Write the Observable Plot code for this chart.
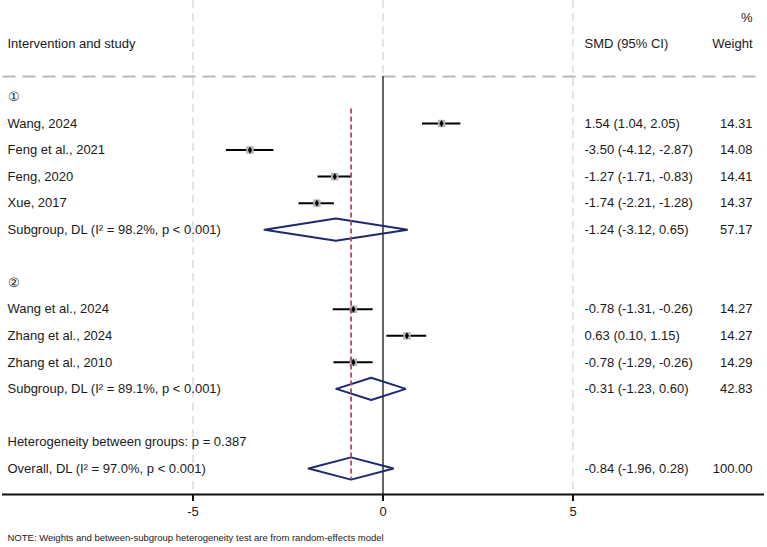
<!DOCTYPE html>
<html><head><meta charset="utf-8">
<script src="https://cdn.jsdelivr.net/npm/d3@7"></script>
<script src="https://cdn.jsdelivr.net/npm/@observablehq/plot@0.6"></script>
<style>body{margin:0;background:#fff} svg{display:block}</style>
</head><body><div id="chart"></div>
<script>
// ---- data ----
const rowLabels = ["①","Wang, 2024","Feng et al., 2021","Feng, 2020","Xue, 2017",
  "Subgroup, DL (I² = 98.2%, p < 0.001)","","②","Wang et al., 2024","Zhang et al., 2024",
  "Zhang et al., 2010","Subgroup, DL (I² = 89.1%, p < 0.001)","",
  "Heterogeneity between groups: p = 0.387","Overall, DL (I² = 97.0%, p < 0.001)"];
const rowKinds = ["group","study","study","study","study","pooled","blank","group","study","study",
  "study","pooled","blank","text","overall"];
const smd   = [null, 1.54, -3.50, -1.27, -1.74, -1.24, null, null, -0.78, 0.63, -0.78, -0.31, null, null, -0.84];
const ciLow = [null, 1.04, -4.12, -1.71, -2.21, -3.12, null, null, -1.31, 0.10, -1.29, -1.23, null, null, -1.96];
const ciHigh= [null, 2.05, -2.87, -0.83, -1.28, 0.65, null, null, -0.26, 1.15, -0.26, 0.60, null, null, 0.28];
const weights = ["","14.31","14.08","14.41","14.37","57.17","","","14.27","14.27","14.29","42.83","","","100.00"];
const xTicks = [-5, 0, 5];
const headerLeft = "Intervention and study";
const headerCI = "SMD (95% CI)";
const headerW1 = "%";
const headerW2 = "Weight";
const noteText = "NOTE: Weights and between-subgroup heterogeneity test are from random-effects model";

// ---- table ----
const fmt = v => (v < 0 ? "-" : "") + Math.abs(v).toFixed(2);
const rows = rowLabels.map((label, i) => ({
  r: i, label, kind: rowKinds[i], est: smd[i], lo: ciLow[i], hi: ciHigh[i],
  ci: smd[i] == null ? "" : `${fmt(smd[i])} (${fmt(ciLow[i])}, ${fmt(ciHigh[i])})`,
  w: weights[i]
}));
const studies = rows.filter(d => d.kind === "study");
const pooled = rows.filter(d => d.kind === "pooled" || d.kind === "overall");
const overall = rows.find(d => d.kind === "overall");
const H = 0.42;
const diamondPts = pooled.flatMap(d => [
  {id: d.r, x: d.lo, y: d.r}, {id: d.r, x: d.est, y: d.r - H},
  {id: d.r, x: d.hi, y: d.r}, {id: d.r, x: d.est, y: d.r + H},
  {id: d.r, x: d.lo, y: d.r}
]);
const headers = [
  {r: -2, left: headerLeft, ci: headerCI, w: headerW2},
  {r: -3, left: "", ci: "", w: headerW1}
];
const yTop = -3.636, yBot = 14.98, sepY = -0.77;
const txt = "#1a1a1a";

const plot = Plot.plot({
  width: 767, height: 547,
  marginLeft: 2.5, marginRight: 4.5, marginTop: 0, marginBottom: 53,
  style: {fontFamily: "'Liberation Sans', Arial, sans-serif", fontSize: "13px", color: txt, background: "#fff"},
  x: {domain: [-10, 10]},
  y: {domain: [yTop, yBot], reverse: true, axis: null},
  marks: [
    Plot.ruleX([-5, 5], {stroke: "#dcdcdc", strokeWidth: 1.5, strokeDasharray: "8,5"}),
    Plot.ruleX([0], {y1: yTop, y2: sepY, stroke: "#dcdcdc", strokeWidth: 1.5, strokeDasharray: "8,5"}),
    Plot.ruleY([sepY], {stroke: "#b8b8b8", strokeWidth: 2, strokeDasharray: "13,7"}),
    Plot.ruleX([0], {y1: sepY, y2: yBot, stroke: "#333", strokeWidth: 1.5}),
    Plot.frame({anchor: "bottom", stroke: "#111", strokeWidth: 2}),
    Plot.axisX({ticks: xTicks, tickFormat: d => String(d), tickSize: 7, tickPadding: 5, strokeWidth: 2, stroke: "#111", label: null, fontSize: 13}),
    Plot.ruleY(studies, {y: "r", x1: "lo", x2: "hi", stroke: "#000", strokeWidth: 2}),
    Plot.dot(studies, {x: "est", y: "r", symbol: "square", r: 4.2, fill: "#b5b5b5", stroke: null}),
    Plot.dot(studies, {x: "est", y: "r", symbol: "diamond", r: 2.2, fill: "#000"}),
    Plot.line(diamondPts, {x: "x", y: "y", z: "id", stroke: "#1f2a6e", strokeWidth: 2, strokeLinejoin: "miter", curve: "linear"}),
    Plot.ruleX([overall.est], {y1: 0.45, y2: 14.4, stroke: "#b5485a", strokeWidth: 1.8, strokeDasharray: "5,3"}),
    Plot.text(rows, {y: "r", text: "label", frameAnchor: "left", dx: 4.5, textAnchor: "start", fill: txt}),
    Plot.text(rows, {y: "r", text: "ci", frameAnchor: "right", dx: -178.5, textAnchor: "start", fill: txt}),
    Plot.text(rows, {y: "r", text: "w", frameAnchor: "right", dx: -10.5, textAnchor: "end", fill: txt}),
    Plot.text(headers, {y: "r", text: "left", frameAnchor: "left", dx: 4.5, textAnchor: "start", fill: txt}),
    Plot.text(headers, {y: "r", text: "ci", frameAnchor: "right", dx: -178.5, textAnchor: "start", fill: txt}),
    Plot.text(headers, {y: "r", text: "w", frameAnchor: "right", dx: -10.5, textAnchor: "end", fill: txt}),
    Plot.text([noteText], {text: d => d, frameAnchor: "bottom-left", dx: 4.5, dy: 46, textAnchor: "start", fontSize: 9.5, fill: txt})
  ]
});
document.getElementById("chart").appendChild(plot);
</script>
</body></html>
